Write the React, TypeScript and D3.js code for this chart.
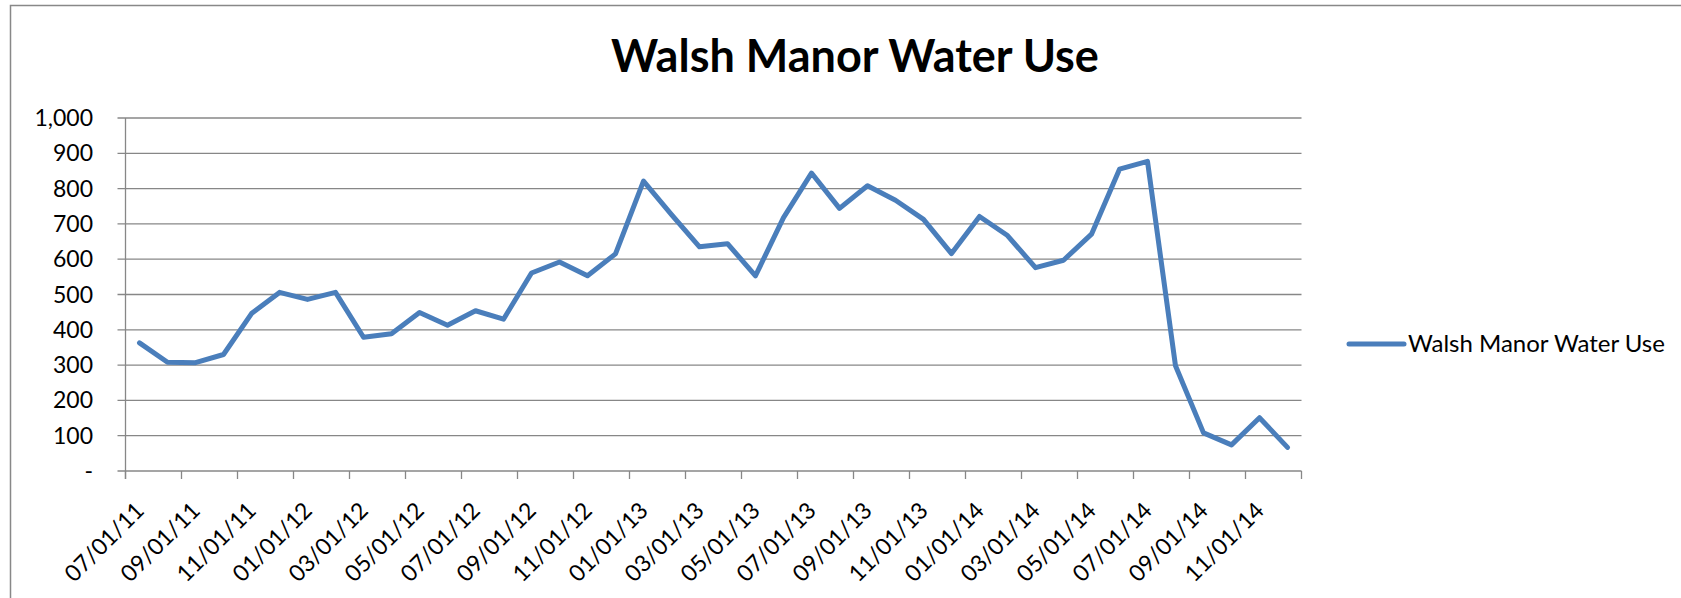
import React from "react";
import * as d3 from "d3";

const months: string[] = [
  "07/01/11", "08/01/11", "09/01/11", "10/01/11", "11/01/11", "12/01/11",
  "01/01/12", "02/01/12", "03/01/12", "04/01/12", "05/01/12", "06/01/12",
  "07/01/12", "08/01/12", "09/01/12", "10/01/12", "11/01/12", "12/01/12",
  "01/01/13", "02/01/13", "03/01/13", "04/01/13", "05/01/13", "06/01/13",
  "07/01/13", "08/01/13", "09/01/13", "10/01/13", "11/01/13", "12/01/13",
  "01/01/14", "02/01/14", "03/01/14", "04/01/14", "05/01/14", "06/01/14",
  "07/01/14", "08/01/14", "09/01/14", "10/01/14", "11/01/14", "12/01/14",
];

const waterUse: number[] = [
  363, 308, 307, 330, 446, 506, 486, 506, 379, 389, 449, 413,
  454, 430, 561, 592, 553, 615, 821, 726, 635, 644, 553, 718,
  844, 744, 808, 767, 713, 616, 721, 667, 576, 597, 671, 855,
  877, 298, 108, 74, 151, 67,
];

const yTicks: number[] = [0, 100, 200, 300, 400, 500, 600, 700, 800, 900, 1000];
const xTickLabels: string[] = months.filter((_, i) => i % 2 === 0);

const seriesName = "Walsh Manor Water Use";
const chartTitle = "Walsh Manor Water Use";

const W = 1681;
const H = 598;
const plot = { left: 125.5, right: 1301.5, top: 118, bottom: 471 };
const FONT = "Lato, 'Open Sans', sans-serif";
const GRID = "#878787";
const BLUE = "#4A7EBB";

export default function App() {
  const x = d3.scaleBand<string>().domain(months).range([plot.left, plot.right]).padding(0);
  const y = d3.scaleLinear().domain([0, 1000]).range([plot.bottom, plot.top]);
  const bw = x.bandwidth();
  const line = d3
    .line<number>()
    .x((_, i) => (x(months[i]) as number) + bw / 2)
    .y((d) => y(d));

  const fmt = (v: number) => (v === 0 ? "-" : d3.format(",")(v));
  const tickXs: number[] = months
    .map((m, i) => (i % 2 === 0 ? (x(m) as number) : null))
    .filter((v): v is number => v !== null);
  tickXs.push(plot.right);

  return (
    <svg
      width={W}
      height={H}
      style={{ position: "absolute", left: 0, top: 0, background: "#fff" }}
      fontFamily={FONT}
    >
      <rect x={0} y={0} width={W} height={H} fill="#fff" />
      <rect x={10.5} y={5.5} width={W + 20} height={H + 20} fill="none" stroke="#888" strokeWidth={1.5} />
      <text x={855} y={71.5} textAnchor="middle" fontSize={45} fontWeight={700} fill="#000">
        {chartTitle}
      </text>
      {yTicks.map((t) => (
        <g key={t}>
          <line x1={plot.left - 8} x2={plot.right} y1={y(t)} y2={y(t)} stroke={GRID} strokeWidth={1.3} />
          <text x={93} y={y(t)} dy="0.35em" textAnchor="end" fontSize={23} fill="#000">
            {fmt(t)}
          </text>
        </g>
      ))}
      <line x1={plot.left} x2={plot.left} y1={plot.top} y2={plot.bottom + 8} stroke={GRID} strokeWidth={1.3} />
      {tickXs.map((tx, i) => (
        <line key={i} x1={tx} x2={tx} y1={plot.bottom} y2={plot.bottom + 8} stroke={GRID} strokeWidth={1.3} />
      ))}
      {xTickLabels.map((lab) => {
        const tx = x(lab) as number;
        const ax = tx + 20;
        const ay = plot.bottom + 41;
        return (
          <text
            key={lab}
            x={ax}
            y={ay}
            textAnchor="end"
            fontSize={23}
            fill="#000"
            transform={`rotate(-45 ${ax} ${ay})`}
          >
            {lab}
          </text>
        );
      })}
      <path
        d={line(waterUse) ?? ""}
        fill="none"
        stroke={BLUE}
        strokeWidth={5}
        strokeLinejoin="round"
        strokeLinecap="round"
      />
      <line x1={1349} x2={1404} y1={344} y2={344} stroke={BLUE} strokeWidth={5} strokeLinecap="round" />
      <text x={1408} y={344} dy="0.35em" fontSize={24} fill="#000">
        {seriesName}
      </text>
    </svg>
  );
}
